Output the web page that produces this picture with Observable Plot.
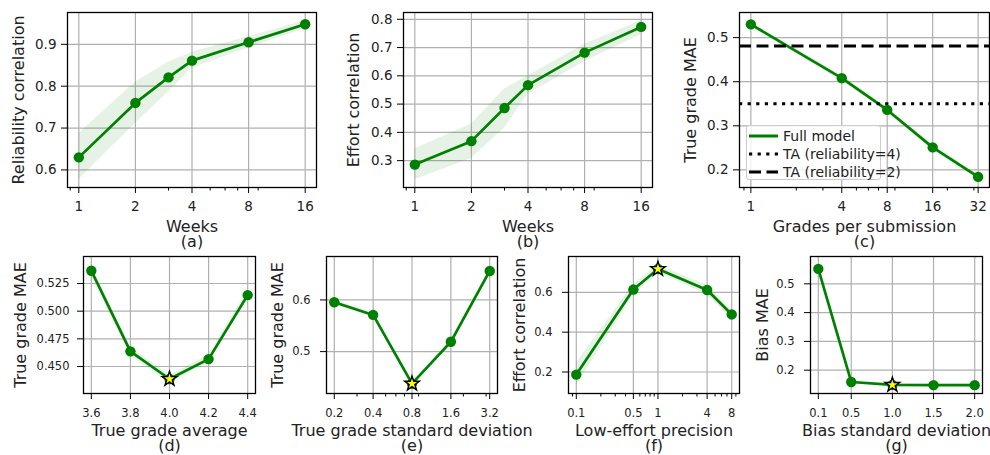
<!DOCTYPE html>
<html>
<head>
<meta charset="utf-8">
<script src="https://cdn.jsdelivr.net/npm/d3@7"></script>
<script src="https://cdn.jsdelivr.net/npm/@observablehq/plot@0.6"></script>
<style>
  body { margin: 0; background: #fff; }
  #root { position: relative; width: 990px; height: 455px; overflow: hidden; font-family: "DejaVu Sans", sans-serif; color: #222; }
  #root svg.panel { position: absolute; }
  #root .legend { position: absolute; background: rgba(255,255,255,0.8); border: 1px solid #cccccc; border-radius: 3px; box-sizing: border-box; font-size: 14px; }
  #root .legend .row { position: absolute; left: 2px; height: 18px; display: flex; align-items: center; white-space: nowrap; }
  #root .legend .row svg { position: static; margin-right: 5px; display: block; }
</style>
</head>
<body>
<div id="root"></div>
<script>
// ---------------- data ----------------
// (a) reliability correlation vs weeks
const weeks = [1, 2, 3, 4, 8, 16];
const reliabilityCorr = [0.630, 0.760, 0.821, 0.861, 0.905, 0.948];
const reliabilityLow  = [0.577, 0.711, 0.787, 0.843, 0.892, 0.937];
const reliabilityHigh = [0.687, 0.810, 0.857, 0.881, 0.918, 0.956];
// (b) effort correlation vs weeks
const effortCorr = [0.286, 0.369, 0.486, 0.567, 0.682, 0.773];
const effortLow  = [0.232, 0.308, 0.415, 0.535, 0.651, 0.745];
const effortHigh = [0.342, 0.430, 0.553, 0.600, 0.712, 0.795];
// (c) true grade MAE vs grades per submission
const gradesPerSubmission = [1, 4, 8, 16, 32];
const gradesMae     = [0.530, 0.408, 0.336, 0.251, 0.184];
const gradesMaeLow  = [0.524, 0.402, 0.330, 0.245, 0.179];
const gradesMaeHigh = [0.536, 0.414, 0.342, 0.257, 0.189];
const taReliability4 = 0.350;
const taReliability2 = 0.481;
// (d) true grade MAE vs true grade average
const gradeAverage = [3.6, 3.8, 4.0, 4.2, 4.4];
const gradeAverageMae     = [0.5365, 0.4637, 0.4387, 0.4567, 0.5145];
const gradeAverageMaeLow  = [0.5315, 0.4597, 0.4352, 0.4532, 0.5105];
const gradeAverageMaeHigh = [0.5415, 0.4677, 0.4422, 0.4602, 0.5185];
const gradeAverageBest = 4.0;
// (e) true grade MAE vs true grade standard deviation
const gradeStd = [0.2, 0.4, 0.8, 1.6, 3.2];
const gradeStdMae     = [0.5955, 0.571, 0.438, 0.519, 0.656];
const gradeStdMaeLow  = [0.5915, 0.567, 0.434, 0.515, 0.651];
const gradeStdMaeHigh = [0.5995, 0.575, 0.442, 0.523, 0.661];
const gradeStdBest = 0.8;
// (f) effort correlation vs low-effort precision
const lowEffortPrecision = [0.1, 0.5, 1, 4, 8];
const precisionCorr     = [0.187, 0.614, 0.717, 0.612, 0.489];
const precisionCorrLow  = [0.130, 0.585, 0.700, 0.590, 0.465];
const precisionCorrHigh = [0.245, 0.640, 0.737, 0.635, 0.510];
const precisionBest = 1;
// (g) bias MAE vs bias standard deviation
const biasStd = [0.1, 0.5, 1.0, 1.5, 2.0];
const biasMae     = [0.552, 0.159, 0.149, 0.148, 0.148];
const biasMaeLow  = [0.546, 0.155, 0.145, 0.144, 0.144];
const biasMaeHigh = [0.558, 0.163, 0.153, 0.152, 0.152];
const biasBest = 1.0;

// tick labels
const weekTicks = [1, 2, 4, 8, 16];
const weekMinorTicks = [0.9, 3, 5, 6, 7, 9];
const gradesTicks = [1, 4, 8, 16, 32];
const gradesMinorTicks = [0.9, 2, 3, 5, 6, 7, 9, 20, 30];
const stdTicks = [0.2, 0.4, 0.8, 1.6, 3.2];
const stdMinorTicks = [0.3, 0.5, 0.6, 0.7, 0.9, 2, 3];
const precisionTicks = [0.1, 0.5, 1, 4, 8];
const precisionMinorTicks = [0.09, 0.2, 0.3, 0.4, 0.6, 0.7, 0.8, 0.9, 2, 3, 5, 6, 7, 9];
const averageTicks = [3.6, 3.8, 4.0, 4.2, 4.4];
const biasTicks = [0.1, 0.5, 1.0, 1.5, 2.0];

// ---------------- drawing ----------------
const root = document.getElementById("root");
const GREEN = "#008000";

function panel(cfg) {
  const [x0, y0, x1, y1] = cfg.frame;
  const L = x0 - 85, T = y0 - 12, W = (x1 - x0) + 95, H = (y1 - y0) + 72;
  const rows = cfg.x.map((x, i) => ({x, y: cfg.y[i], lo: cfg.lo[i], hi: cfg.hi[i]}));
  const fs = cfg.tickFont;
  const marks = [
    Plot.gridX({ticks: cfg.xTicks, stroke: "#b0b0b0", strokeOpacity: 1, strokeWidth: 1.2}),
    Plot.gridY({ticks: cfg.yTicks, stroke: "#b0b0b0", strokeOpacity: 1, strokeWidth: 1.2}),
    Plot.areaY(rows, {x: "x", y1: "lo", y2: "hi", fill: GREEN, fillOpacity: 0.1}),
    Plot.line(rows, {x: "x", y: "y", stroke: GREEN, strokeWidth: 2.7})
  ];
  if (cfg.rules) {
    for (const r of cfg.rules) marks.push(Plot.ruleY([r.value], {stroke: "#000", strokeWidth: 3, strokeDasharray: r.dash}));
  }
  marks.push(Plot.dot(rows, {x: "x", y: "y", r: 5.2, fill: GREEN}));
  if (cfg.best != null) {
    const bi = cfg.x.indexOf(cfg.best);
    marks.push(Plot.dot([rows[bi]], {x: "x", y: "y", symbol: "star", r: 4.6, fill: "yellow", stroke: "#000", strokeWidth: 1.4}));
  }
  if (cfg.xMinor) {
    marks.push(Plot.axisX({ticks: cfg.xMinor, tickSize: 3.5, text: null, label: null, stroke: "#000"}));
  }
  marks.push(
    Plot.axisX({ticks: cfg.xTicks, tickSize: 6, text: null, label: null, stroke: "#000"}),
    Plot.text(cfg.xTicks, {x: d => d, text: cfg.xFormat, frameAnchor: "bottom", textAnchor: "middle", lineAnchor: "top", dy: 6 + cfg.xPad, fontSize: fs, fill: "#222"}),
    Plot.axisY({ticks: cfg.yTicks, tickFormat: cfg.yFormat, tickSize: 6, tickPadding: cfg.yPad, label: null, fontSize: fs, stroke: "#000"}),
    Plot.frame({stroke: "#000", strokeWidth: 1.3}),
    Plot.text([cfg.xLabel], {text: d => d, frameAnchor: "bottom", textAnchor: "middle", lineAnchor: "middle", dy: cfg.xLabelDy, fontSize: 16}),
    Plot.text([cfg.tag], {text: d => d, frameAnchor: "bottom", textAnchor: "middle", lineAnchor: "middle", dy: cfg.tagDy, fontSize: 16}),
    Plot.text([cfg.yLabel], {text: d => d, frameAnchor: "left", textAnchor: "middle", lineAnchor: "middle", rotate: -90, dx: cfg.yLabelDx, fontSize: 16})
  );
  const svg = Plot.plot({
    width: W, height: H,
    marginLeft: x0 - L, marginRight: L + W - x1, marginTop: y0 - T, marginBottom: T + H - y1,
    x: {type: cfg.xType, domain: cfg.xDomain},
    y: {type: "linear", domain: cfg.yDomain},
    style: {background: "transparent", overflow: "visible", fontFamily: "'DejaVu Sans', sans-serif", fontSize: fs + "px", color: "#222", maxWidth: "none"},
    marks
  });
  svg.classList.add("panel");
  svg.style.left = L + "px";
  svg.style.top = T + "px";
  root.appendChild(svg);
}

const f1 = d3.format(".1f"), f3 = d3.format(".3f"), fPlain = d => String(d);

panel({frame: [67, 12, 316, 187], x: weeks, y: reliabilityCorr, lo: reliabilityLow, hi: reliabilityHigh,
  xType: "log", xDomain: [Math.pow(2, -0.2), Math.pow(2, 4.2)], yDomain: [0.558, 0.976],
  xTicks: weekTicks, xMinor: weekMinorTicks, yTicks: [0.6, 0.7, 0.8, 0.9], xFormat: fPlain, yFormat: f1,
  tickFont: 13.5, xPad: 8, yPad: 5, xLabel: "Weeks", tag: "(a)", yLabel: "Reliability correlation",
  xLabelDy: 39, tagDy: 54, yLabelDx: -49});

panel({frame: [403, 12, 652, 187], x: weeks, y: effortCorr, lo: effortLow, hi: effortHigh,
  xType: "log", xDomain: [Math.pow(2, -0.2), Math.pow(2, 4.2)], yDomain: [0.205, 0.824],
  xTicks: weekTicks, xMinor: weekMinorTicks, yTicks: [0.3, 0.4, 0.5, 0.6, 0.7, 0.8], xFormat: fPlain, yFormat: f1,
  tickFont: 13.5, xPad: 8, yPad: 5, xLabel: "Weeks", tag: "(b)", yLabel: "Effort correlation",
  xLabelDy: 39, tagDy: 54, yLabelDx: -50});

panel({frame: [739, 12, 989, 187], x: gradesPerSubmission, y: gradesMae, lo: gradesMaeLow, hi: gradesMaeHigh,
  xType: "log", xDomain: [Math.pow(2, -0.25), Math.pow(2, 5.25)], yDomain: [0.16, 0.557],
  xTicks: gradesTicks, xMinor: gradesMinorTicks, yTicks: [0.2, 0.3, 0.4, 0.5], xFormat: fPlain, yFormat: f1,
  tickFont: 13.5, xPad: 8, yPad: 5, xLabel: "Grades per submission", tag: "(c)", yLabel: "True grade MAE",
  xLabelDy: 39, tagDy: 54, yLabelDx: -49,
  rules: [{value: taReliability4, dash: "3.2,5.4"}, {value: taReliability2, dash: "12,5.5"}]});

panel({frame: [83, 256, 255, 393], x: gradeAverage, y: gradeAverageMae, lo: gradeAverageMaeLow, hi: gradeAverageMaeHigh,
  xType: "linear", xDomain: [3.56, 4.44], yDomain: [0.4256, 0.5494],
  xTicks: averageTicks, yTicks: [0.45, 0.475, 0.5, 0.525], xFormat: f1, yFormat: f3, best: gradeAverageBest,
  tickFont: 11.5, xPad: 9, yPad: 8, xLabel: "True grade average", tag: "(d)", yLabel: "True grade MAE",
  xLabelDy: 37, tagDy: 52, yLabelDx: -63});

panel({frame: [326, 256, 497, 393], x: gradeStd, y: gradeStdMae, lo: gradeStdMaeLow, hi: gradeStdMaeHigh,
  xType: "log", xDomain: [0.2 * Math.pow(2, -0.2), 3.2 * Math.pow(2, 0.2)], yDomain: [0.419, 0.684],
  xTicks: stdTicks, xMinor: stdMinorTicks, yTicks: [0.5, 0.6], xFormat: fPlain, yFormat: f1, best: gradeStdBest,
  tickFont: 11.5, xPad: 9, yPad: 10, xLabel: "True grade standard deviation", tag: "(e)", yLabel: "True grade MAE",
  xLabelDy: 37, tagDy: 52, yLabelDx: -49});

panel({frame: [568, 256, 739, 393], x: lowEffortPrecision, y: precisionCorr, lo: precisionCorrLow, hi: precisionCorrHigh,
  xType: "log", xDomain: [0.0803, 9.96], yDomain: [0.092, 0.78],
  xTicks: precisionTicks, xMinor: precisionMinorTicks, yTicks: [0.2, 0.4, 0.6], xFormat: fPlain, yFormat: f1, best: precisionBest,
  tickFont: 11.5, xPad: 9, yPad: 10, xLabel: "Low-effort precision", tag: "(f)", yLabel: "Effort correlation",
  xLabelDy: 37, tagDy: 52, yLabelDx: -49});

panel({frame: [810, 256, 982, 393], x: biasStd, y: biasMae, lo: biasMaeLow, hi: biasMaeHigh,
  xType: "linear", xDomain: [0.005, 2.095], yDomain: [0.119, 0.595],
  xTicks: biasTicks, yTicks: [0.2, 0.3, 0.4, 0.5], xFormat: f1, yFormat: f1, best: biasBest,
  tickFont: 11.5, xPad: 9, yPad: 10, xLabel: "Bias standard deviation", tag: "(g)", yLabel: "Bias MAE",
  xLabelDy: 37, tagDy: 52, yLabelDx: -48});

// legend for panel (c)
const legendItems = [
  {label: "Full model", color: GREEN, dash: null},
  {label: "TA (reliability=4)", color: "#000", dash: "3.2,5.4"},
  {label: "TA (reliability=2)", color: "#000", dash: "12,5.5"}
];
const legend = document.createElement("div");
legend.className = "legend";
Object.assign(legend.style, {left: "746px", top: "125px", width: "135px", height: "55px"});
legendItems.forEach((it, i) => {
  const row = document.createElement("div");
  row.className = "row";
  row.style.top = (1 + i * 18) + "px";
  row.innerHTML = `<svg width="29" height="6"><line x1="0" x2="29" y1="3" y2="3" stroke="${it.color}" stroke-width="3" ${it.dash ? `stroke-dasharray="${it.dash}"` : ""}/></svg><span>${it.label}</span>`;
  legend.appendChild(row);
});
root.appendChild(legend);
</script>
</body>
</html>
